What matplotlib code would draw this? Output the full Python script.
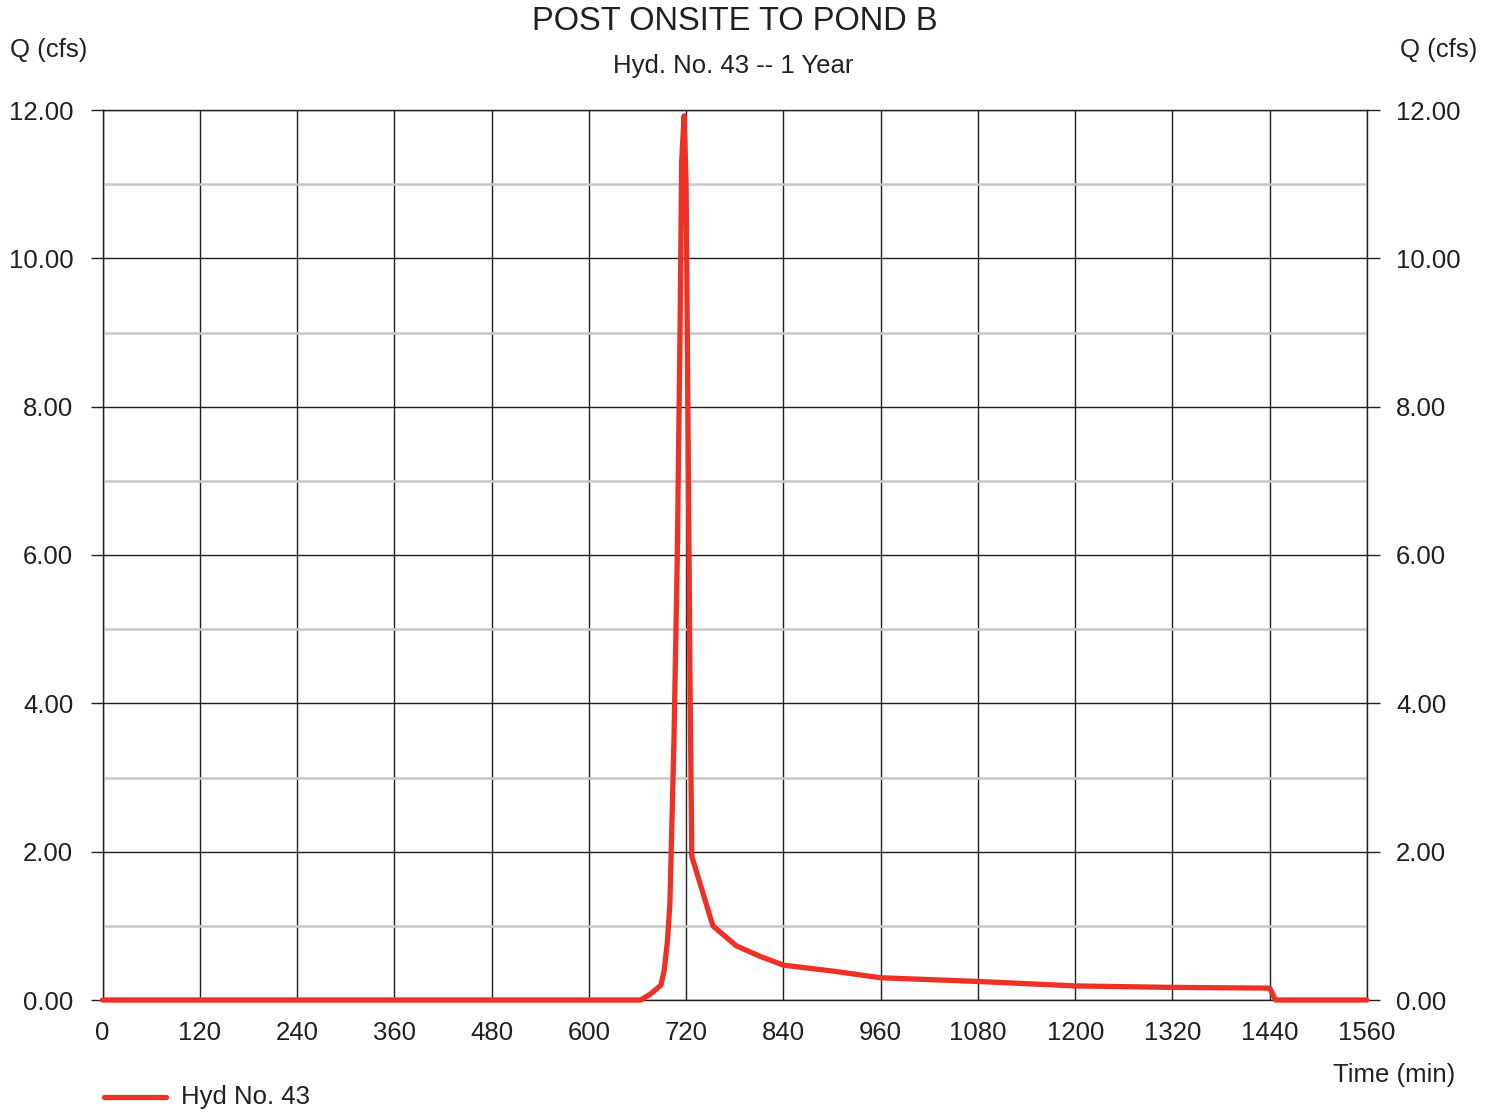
import matplotlib.pyplot as plt
from matplotlib.ticker import MultipleLocator, FormatStrFormatter

plt.rcParams["font.family"] = ["Liberation Sans", "DejaVu Sans"]

# hydrograph ordinates (time in min, flow in cfs)
time_min = [0, 664, 676, 689, 693, 697, 700, 705, 709, 712.5, 714.5, 717.5,
            720, 722, 724.8, 727, 753, 782, 811, 840, 901, 960, 1080,
            1200, 1320, 1440, 1447, 1560]
flow_cfs = [0, 0, 0.08, 0.2, 0.4, 0.8, 1.3, 3.5, 5.9, 9.0, 11.3, 11.92,
            11.0, 8.2, 4.3, 1.94, 1.0, 0.73, 0.59, 0.47, 0.39, 0.30, 0.25,
            0.19, 0.17, 0.16, 0.0, 0.0]

x_ticks = list(range(0, 1561, 120))
title = "POST ONSITE TO POND B"
subtitle = "Hyd. No. 43 -- 1 Year"
series_name = "Hyd No. 43"

txt = "#231f20"
red = "#ee3124"
fs = 18.5

fig = plt.figure(figsize=(14.94, 11.12), dpi=100)
ax = fig.add_axes([102.5 / 1494, 1 - 1000 / 1112, (1367 - 102.5) / 1494, 890 / 1112])

ax.plot(time_min, flow_cfs, color=red, lw=3.8, solid_capstyle="round",
        solid_joinstyle="round", zorder=5, clip_on=False)

ax.set_xlim(0, 1560)
ax.set_ylim(0, 12)
ax.set_xticks(x_ticks)
ax.yaxis.set_major_locator(MultipleLocator(2))
ax.yaxis.set_minor_locator(MultipleLocator(1))
ax.yaxis.set_major_formatter(FormatStrFormatter("%.2f"))

ax.grid(which="major", axis="both", color="#231f20", lw=1.0, zorder=2)
ax.grid(which="minor", axis="y", color="#c8c8c8", lw=1.8, zorder=1)
for s in ax.spines.values():
    s.set_color("#231f20")
    s.set_linewidth(1.0)

ax.tick_params(axis="x", length=0, pad=15, labelsize=fs, colors=txt)
ax.tick_params(axis="y", which="major", length=9, width=1.0, pad=12,
               labelsize=fs, colors=txt, right=True, labelright=True)
ax.tick_params(axis="y", which="minor", length=0, right=False)

fig.text(735 / 1494, 1 - 22 / 1112, title, ha="center", va="center",
         fontsize=23.5, color=txt)
fig.text(733 / 1494, 1 - 66 / 1112, subtitle, ha="center", va="center",
         fontsize=fs, color=txt)
fig.text(10 / 1494, 1 - 50 / 1112, "Q (cfs)", ha="left", va="center",
         fontsize=fs, color=txt)
fig.text(1477 / 1494, 1 - 50 / 1112, "Q (cfs)", ha="right", va="center",
         fontsize=fs, color=txt)
fig.text(1455 / 1494, 1 - 1075 / 1112, "Time (min)", ha="right", va="center",
         fontsize=fs, color=txt)

# legend drawn by hand under the axis
fig.add_artist(plt.Line2D([104 / 1494, 166 / 1494], [1 - 1097 / 1112] * 2,
                          color=red, lw=3.8, solid_capstyle="round"))
fig.text(181 / 1494, 1 - 1097 / 1112, series_name, ha="left", va="center",
         fontsize=fs, color=txt)

fig.savefig("out.png", dpi=100)
